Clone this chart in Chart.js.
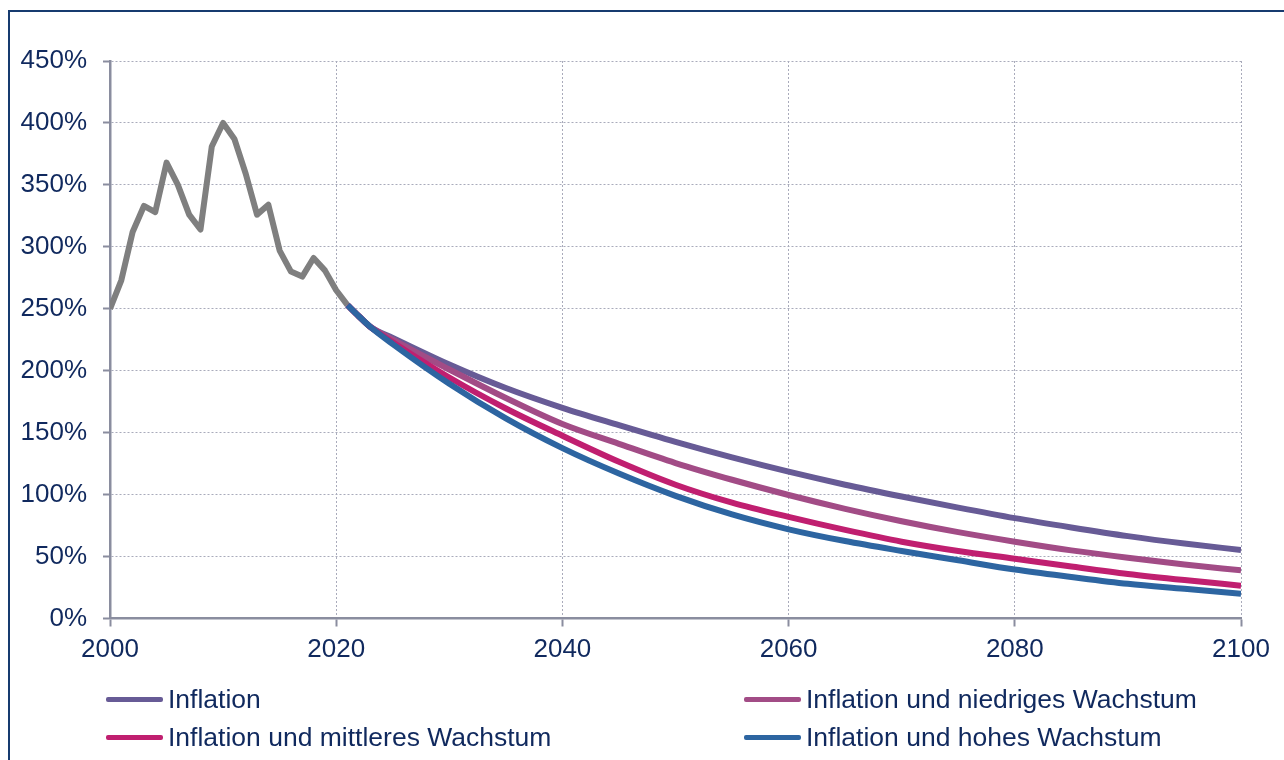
<!DOCTYPE html>
<html>
<head>
<meta charset="utf-8">
<script src="https://cdn.jsdelivr.net/npm/chart.js@4.4.1/dist/chart.umd.min.js"></script>
<style>
  html, body { margin: 0; padding: 0; background: #fff; }
  body { width: 1284px; height: 760px; position: relative; overflow: hidden; font-family: "Liberation Sans", Arial, sans-serif; }
  #chart { position: absolute; left: 0; top: 0; }
  .frame { position: absolute; left: 8px; top: 10px; width: 1400px; height: 900px; border-left: 2px solid #173b6f; border-top: 2px solid #173b6f; pointer-events: none; }
  .leg { position: absolute; height: 30px; display: flex; align-items: center; font-size: 26.5px; color: #10295e; white-space: nowrap; }
  .leg i { display: inline-block; width: 57px; height: 5px; margin-right: 5px; border-radius: 2px; }
</style>
</head>
<body>
<canvas id="chart" width="1284" height="760"></canvas>
<div class="frame"></div>
<div id="legend"></div>
<script>
  // historical values, 2000-2021
  const histYears = [2000, 2001, 2002, 2003, 2004, 2005, 2006, 2007, 2008, 2009, 2010,
                     2011, 2012, 2013, 2014, 2015, 2016, 2017, 2018, 2019, 2020, 2021];
  const histValues = [250, 273, 312, 333, 328, 368, 350, 326, 314, 381, 400,
                      387, 359, 326, 334, 297, 280, 276, 291, 281, 265, 253];

  // projections
  const projYears = [2021, 2022, 2023, 2025, 2030, 2035, 2040, 2045, 2050, 2055,
                     2060, 2065, 2070, 2075, 2080, 2085, 2090, 2095, 2100];
  const inflation = [253, 244, 235.5, 226.5, 205, 186, 170, 156, 142.5, 130,
                     118.5, 108, 98.5, 89.5, 81, 73.5, 66.5, 60.5, 55.3];
  const lowGrowth = [253, 244, 235.5, 225, 201, 178, 157, 141, 125.5, 112,
                     99.7, 88.5, 78.5, 69.7, 62, 55, 49, 43.6, 38.9];
  const midGrowth = [253, 244, 235.5, 223, 194.5, 169.5, 147.5, 126.5, 108, 93.5,
                     82, 71.5, 62, 54.5, 48.3, 42, 36, 31, 26.5];
  const highGrowth = [253, 244, 235.5, 221.5, 189.5, 161.5, 137.5, 117, 99, 84,
                      72, 62.5, 54.5, 47, 39.5, 33.5, 28, 24, 20];

  const labels = ['Inflation', 'Inflation und niedriges Wachstum',
                  'Inflation und mittleres Wachstum', 'Inflation und hohes Wachstum'];
  const colors = ['#675b96', '#a24c86', '#c01f70', '#2d65a1'];

  const navy = '#10295e';
  const axisGray = '#8a8d9f';
  const gridGray = '#a9abbb';
  const fontFamily = '"Liberation Sans", Arial, sans-serif';

  const pts = (xs, ys) => xs.map((x, i) => ({ x: x, y: ys[i] }));

  function projSet(i, values) {
    return {
      label: labels[i],
      data: pts(projYears, values),
      borderColor: colors[i],
      borderWidth: 6,
      pointRadius: 0,
      cubicInterpolationMode: 'monotone',
      borderCapStyle: 'butt'
    };
  }

  new Chart(document.getElementById('chart'), {
    type: 'line',
    data: {
      datasets: [
        projSet(3, highGrowth),
        projSet(2, midGrowth),
        projSet(1, lowGrowth),
        projSet(0, inflation),
        {
          label: 'hist',
          data: pts(histYears, histValues),
          borderColor: '#7f7f7f',
          borderWidth: 6,
          pointRadius: 0,
          tension: 0,
          borderJoinStyle: 'round'
        }
      ]
    },
    options: {
      responsive: false,
      animation: false,
      layout: { padding: { left: 0, top: 61, right: 43, bottom: 0 } },
      plugins: { legend: { display: false }, tooltip: { enabled: false } },
      scales: {
        x: {
          type: 'linear',
          min: 2000,
          max: 2100,
          ticks: {
            stepSize: 20,
            color: navy,
            padding: 8,
            maxRotation: 0,
            font: { size: 26, family: fontFamily },
            callback: v => String(v)
          },
          grid: { color: gridGray, lineWidth: 1, tickLength: 8, tickColor: axisGray, tickWidth: 2 },
          border: { color: axisGray, width: 2.5, dash: [2, 2] },
          afterFit(s) { s.height = 760 - 618.5; }
        },
        y: {
          min: 0,
          max: 450,
          ticks: {
            stepSize: 50,
            color: navy,
            padding: 16,
            font: { size: 26, family: fontFamily },
            callback: v => v + '%'
          },
          grid: { color: gridGray, lineWidth: 1, tickLength: 7, tickColor: axisGray, tickWidth: 2 },
          border: { color: axisGray, width: 2.5, dash: [2, 2] },
          afterFit(s) { s.width = 110; }
        }
      }
    }
  });

  // legend, two columns
  const legendPos = [
    { left: 106, top: 684 }, { left: 744, top: 684 },
    { left: 106, top: 722 }, { left: 744, top: 722 }
  ];
  const legendEl = document.getElementById('legend');
  labels.forEach((lab, i) => {
    const d = document.createElement('div');
    d.className = 'leg';
    d.style.left = legendPos[i].left + 'px';
    d.style.top = legendPos[i].top + 'px';
    d.innerHTML = '<i style="background:' + colors[i] + '"></i>' + lab;
    legendEl.appendChild(d);
  });
</script>
</body>
</html>
